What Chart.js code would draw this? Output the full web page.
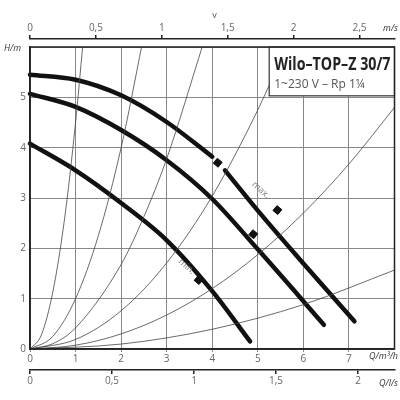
<!DOCTYPE html>
<html><head><meta charset="utf-8">
<script src="https://cdn.jsdelivr.net/npm/chart.js@4"></script>
<style>html,body{margin:0;padding:0;background:#fff}#w{width:400px;height:400px}</style>
</head><body><div id="w"><canvas id="c"></canvas></div>
<script>
const qMax = 8, hMax = 6;
const vMax = 2.766, lsMax = 2.222;
const qTicks = [0,1,2,3,4,5,6,7];
const vTicks = [0,0.5,1,1.5,2,2.5];
const lsTicks = [0,0.5,1,1.5,2];
const hTicks = [0,1,2,3,4,5,6];
const curveMax1 = [[0,5.45],[1,5.35],[2,5.04],[3,4.51],[4,3.82]];
const curveMax2 = [[4.28,3.55],[5,2.75],[6,1.7],[7.12,0.55]];
const curveMid = [[0,5.07],[1,4.81],[2,4.35],[3,3.75],[4,2.98],[5,1.98],[6,0.95],[6.45,0.48]];
const curveMin = [[0,4.08],[1,3.55],[2,2.9],[3,2.16],[4,1.15],[4.83,0.15]];
const sys1 = [[0,0],[0.25,0.28],[0.5,1.13],[0.75,2.53],[1,4.5],[1.16,6.05]];
const sys2 = [[0,0],[0.5,0.25],[1,1],[1.5,2.25],[2,4],[2.46,6.05]];
const sys3 = [[0,0],[0.5,0.105],[1,0.42],[2,1.68],[2.5,2.63],[3,3.78],[3.8,6.06]];
const sys4 = [[0,0],[1,0.19],[2,0.76],[3,1.71],[4,3.04],[5,4.75],[5.64,6.04]];
const sys5 = [[0,0],[1,0.075],[2,0.3],[3,0.675],[4,1.2],[5,1.875],[6,2.7],[7,3.675],[8,4.8]];
const sys6 = [[0,0],[2,0.098],[4,0.392],[6,0.882],[8,1.568]];
const markers = [[4.12,3.70],[5.43,2.76],[4.9,2.28],[3.7,1.37]];
const labels = [{t:'max.',q:5.03,h:3.12},{t:'min.',q:3.4,h:1.6}];
const fmt = v => String(+v.toFixed(2)).replace('.', ',');
const setTicks = arr => s => { s.ticks = arr.map(v => ({value:v})); };
const pts = a => a.map(p => ({x:p[0], y:p[1]}));
const pump = a => ({data:pts(a), borderColor:'#111', borderWidth:4.5, pointRadius:0, cubicInterpolationMode:'monotone', borderCapStyle:'round', clip:false});
const sys = a => ({data:pts(a), borderColor:'#444', borderWidth:0.8, pointRadius:0, cubicInterpolationMode:'monotone'});
const gray = '#666';
const deco = {
  id:'deco',
  afterDatasetsDraw(ch){
    const c = ch.ctx, a = ch.chartArea, x = ch.scales.x, y = ch.scales.y;
    c.save();
    const bx = x.getPixelForValue(5.25), by = y.getPixelForValue(5.03);
    c.fillStyle='#fff'; c.fillRect(bx, a.top, a.right-bx, by-a.top);
    c.strokeStyle='#333'; c.lineWidth=1.2; c.strokeRect(bx, a.top, a.right-bx, by-a.top);
    c.fillStyle='#222'; c.font='bold 17px "Open Sans"'; c.textBaseline='alphabetic';
    c.fillText('Wilo–TOP–Z 30/7', bx+5, a.top+23, a.right-bx-9);
    c.fillStyle='#555'; c.font='12px "Open Sans"';
    c.fillText('1~230 V – Rp 1¼', bx+5, a.top+41);
    c.strokeStyle='#222'; c.lineWidth=1.5; c.strokeRect(a.left, a.top, a.right-a.left, a.bottom-a.top);
    c.fillStyle='#777'; c.font='9px "Open Sans"';
    labels.forEach(l=>{c.save();c.translate(x.getPixelForValue(l.q), y.getPixelForValue(l.h));c.rotate(0.72);c.textAlign='center';c.fillText(l.t,0,0);c.restore();});
    c.fillStyle='#333'; c.font='italic 9px "Open Sans"'; c.textAlign='left';
    c.fillText('H/m', 4, a.top+4);
    c.textAlign='right';
    c.fillText('Q/m³/h', 398, a.bottom+10);
    c.fillText('Q/l/s', 398, 386);
    c.fillText('m/s', 398, 31);
    c.textAlign='center'; c.fillStyle='#555'; c.font='9px "Open Sans"';
    c.fillText('v', x.getPixelForValue(4.05), 18);
    c.restore();
  }
};
new Chart(document.getElementById('c'), {
  type:'line',
  data:{datasets:[
    sys(sys1),sys(sys2),sys(sys3),sys(sys4),sys(sys5),sys(sys6),
    pump(curveMax1),pump(curveMax2),pump(curveMid),pump(curveMin),
    {data:pts(markers), showLine:false, pointStyle:'rect', pointRadius:4.5, pointRotation:40, backgroundColor:'#111', borderColor:'#111'}
  ]},
  plugins:[deco],
  options:{
    responsive:true, maintainAspectRatio:false, animation:false,
    layout:{padding:{left:0,right:2,top:0,bottom:0}},
    plugins:{legend:{display:false}, tooltip:{enabled:false}},
    scales:{
      x:{type:'linear', position:'bottom', min:0, max:qMax, weight:0,
        afterFit:s=>{s.height=21;}, afterBuildTicks:setTicks(qTicks),
        ticks:{autoSkip:false, color:gray, font:{size:10, family:'Open Sans'}, padding:1, callback:v=>String(v)},
        grid:{color:'#888', lineWidth:1, tickLength:3}, border:{color:'#222', width:1.5}},
      ls:{type:'linear', position:'bottom', min:0, max:lsMax, weight:1,
        afterFit:s=>{s.height=30;}, afterBuildTicks:setTicks(lsTicks),
        ticks:{autoSkip:false, color:gray, font:{size:10, family:'Open Sans'}, padding:1, callback:fmt},
        grid:{drawOnChartArea:false, color:'#222', tickLength:4, lineWidth:1.5}, border:{color:'#222', width:1.5}},
      sp:{type:'linear', position:'top', min:0, max:1, weight:0,
        afterFit:s=>{s.height=8;}, ticks:{display:false}, grid:{display:false}, border:{display:false}},
      v:{type:'linear', position:'top', min:0, max:vMax, weight:1,
        afterFit:s=>{s.height=39;}, afterBuildTicks:setTicks(vTicks),
        ticks:{autoSkip:false, color:gray, font:{size:10, family:'Open Sans'}, padding:1, callback:fmt},
        grid:{drawOnChartArea:false, color:'#222', tickLength:4, lineWidth:1.5}, border:{color:'#222', width:1.5}},
      y:{type:'linear', min:0, max:hMax,
        afterFit:s=>{s.width=30;}, afterBuildTicks:setTicks(hTicks),
        ticks:{color:gray, font:{size:10, family:'Open Sans'}, padding:4, callback:v=>v===6?'':String(v)},
        grid:{color:'#888', lineWidth:1, tickLength:0}, border:{color:'#222', width:1.5}}
    }
  }
});
</script></body></html>
